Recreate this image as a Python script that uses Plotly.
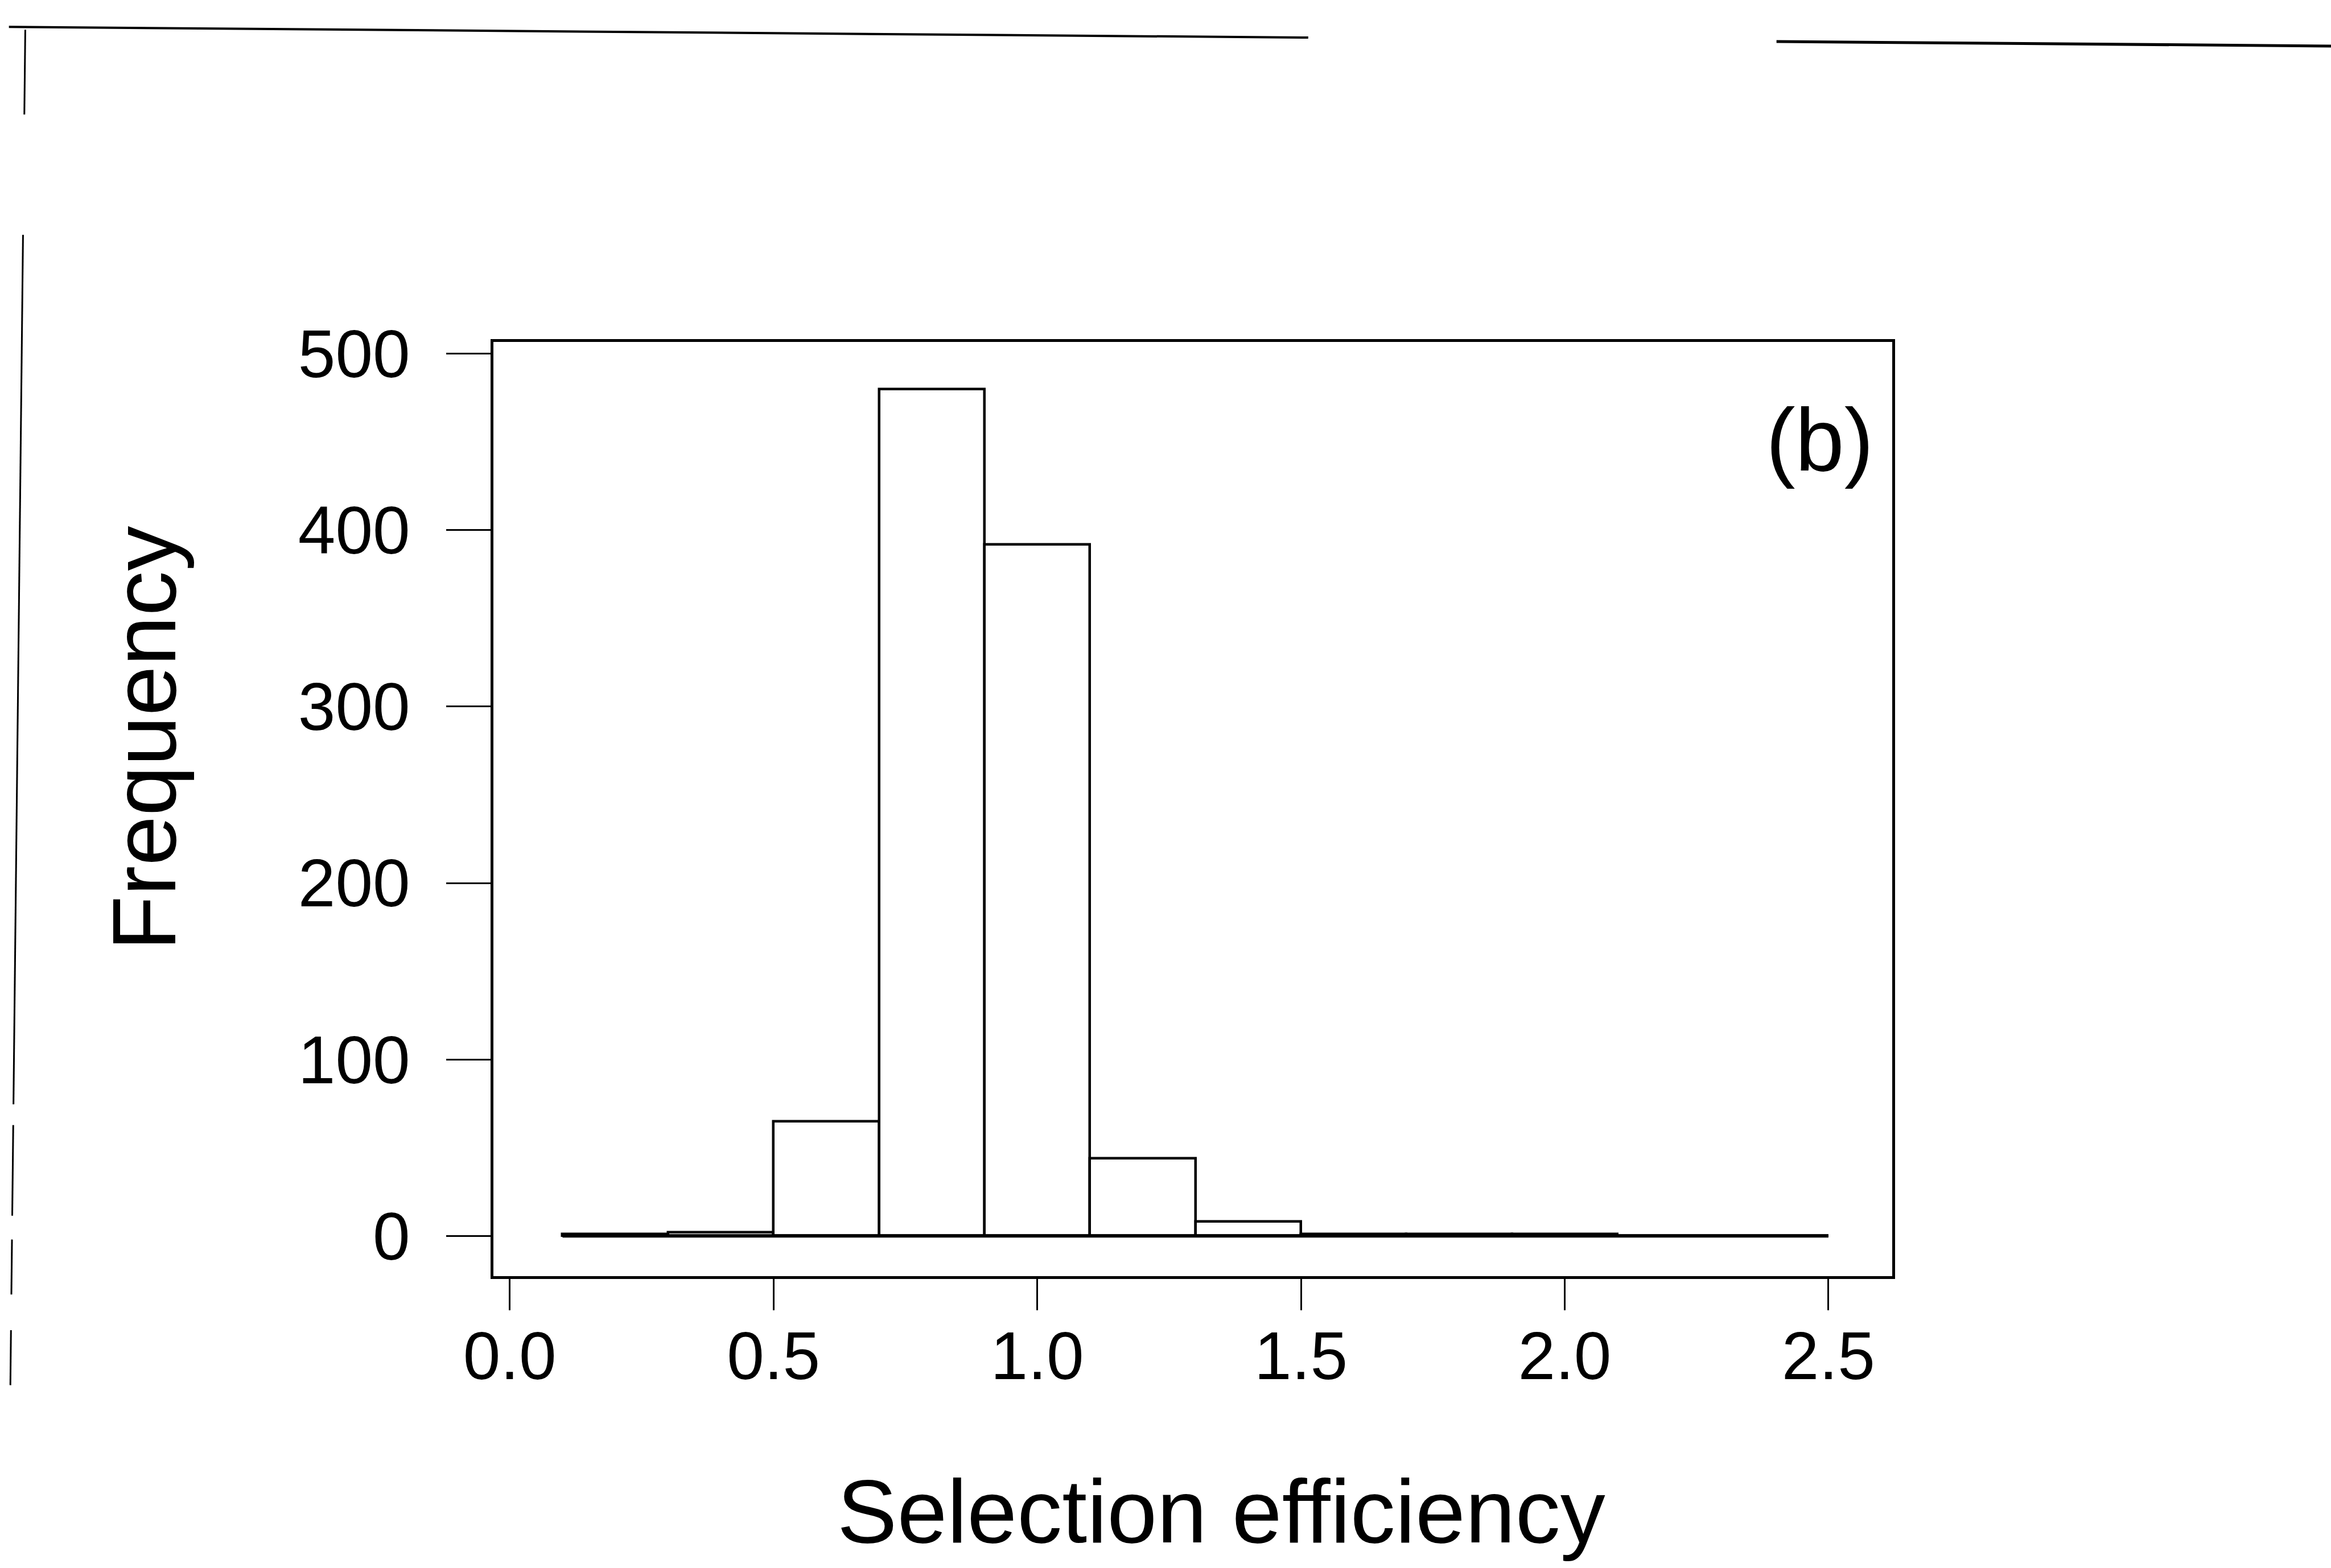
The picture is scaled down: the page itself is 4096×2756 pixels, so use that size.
import plotly.graph_objects as go

# ---- data ----
bin_edges = [0.1, 0.3, 0.5, 0.7, 0.9, 1.1, 1.3, 1.5, 1.7, 1.9, 2.1, 2.3, 2.5]
counts = [1, 2, 65, 480, 392, 44, 8, 1, 1, 1, 0, 0]
x_ticks = [0.0, 0.5, 1.0, 1.5, 2.0, 2.5]
x_tick_labels = ["0.0", "0.5", "1.0", "1.5", "2.0", "2.5"]
y_ticks = [0, 100, 200, 300, 400, 500]
y_tick_labels = ["0", "100", "200", "300", "400", "500"]
panel_label = "(b)"
x_title = "Selection efficiency"
y_title = "Frequency"

centers = [(a + b) / 2 for a, b in zip(bin_edges[:-1], bin_edges[1:])]
widths = [b - a for a, b in zip(bin_edges[:-1], bin_edges[1:])]

W, H = 4096, 2756
L, R, T, B = 867, 3325, 601, 2243  # plot area in px
S = W / 1568.0  # overview-px -> target-px


def px(xp):
    return (xp - L) / (R - L)


def py(yp):
    return (B - yp) / (B - T)


FONT = "Liberation Sans, Arial, Helvetica, sans-serif"

fig = go.Figure()
fig.add_trace(go.Bar(
    x=centers, y=counts, width=widths,
    marker=dict(color="white", line=dict(color="black", width=4.5)),
    showlegend=False, hoverinfo="skip",
))
# baseline of histogram (zero-height bins drawn as a line, as R does)
fig.add_trace(go.Scatter(
    x=[bin_edges[0], bin_edges[-1]], y=[0, 0], mode="lines",
    line=dict(color="black", width=6), showlegend=False, hoverinfo="skip",
))

axis_common = dict(
    showgrid=False, zeroline=False, showline=True, mirror=True,
    linecolor="black", linewidth=4.5, ticks="outside", tickcolor="black",
    tickwidth=3, ticklen=55,
)
fig.update_xaxes(range=[-0.031, 2.621], tickvals=x_ticks, ticktext=x_tick_labels,
                 tickfont=dict(family=FONT, size=118, color="black"),
                 ticklabelstandoff=-20, **axis_common)
fig.update_yaxes(range=[-22.8, 506.7], tickvals=y_ticks, ticktext=y_tick_labels,
                 tickfont=dict(family=FONT, size=118, color="black"),
                 ticklabelstandoff=40, **axis_common)
fig.update_yaxes(ticklen=78)

annotations = [
    dict(text=panel_label, x=px(3197), y=py(773), xref="paper", yref="paper",
         showarrow=False, font=dict(family=FONT, size=155, color="black"),
         xanchor="center", yanchor="middle"),
    dict(text=x_title, x=px(2146), y=py(2656), xref="paper", yref="paper",
         showarrow=False, font=dict(family=FONT, size=158, color="black"),
         xanchor="center", yanchor="middle"),
    dict(text=y_title, x=px(253), y=py(1298), xref="paper", yref="paper",
         showarrow=False, textangle=-90,
         font=dict(family=FONT, size=158, color="black"),
         xanchor="center", yanchor="middle"),
]


# scan frame lines (top and left edges of the scanned page), overview px
def top_y(xo):
    return 18 + 13 * (xo / 1568)


def left_x(yo):
    return 17 - 10 * (yo - 20) / 910


shapes = []
for x0, x1, w in [(6, 880, 4), (1195, 1568, 5)]:
    shapes.append(dict(type="line", xref="paper", yref="paper",
                       x0=px(x0 * S), y0=py(top_y(x0) * S),
                       x1=px(x1 * S), y1=py(top_y(x1) * S),
                       line=dict(color="black", width=w)))
for y0, y1 in [(20, 77), (158, 743), (757, 818), (834, 871), (895, 932)]:
    shapes.append(dict(type="line", xref="paper", yref="paper",
                       x0=px(left_x(y0) * S), y0=py(y0 * S),
                       x1=px(left_x(y1) * S), y1=py(y1 * S),
                       line=dict(color="black", width=3)))

fig.update_layout(
    width=W, height=H,
    margin=dict(l=L, r=W - R, t=T, b=H - B, pad=0),
    paper_bgcolor="white", plot_bgcolor="white",
    annotations=annotations, shapes=shapes,
    bargap=0,
)

fig.write_html("out.html")
